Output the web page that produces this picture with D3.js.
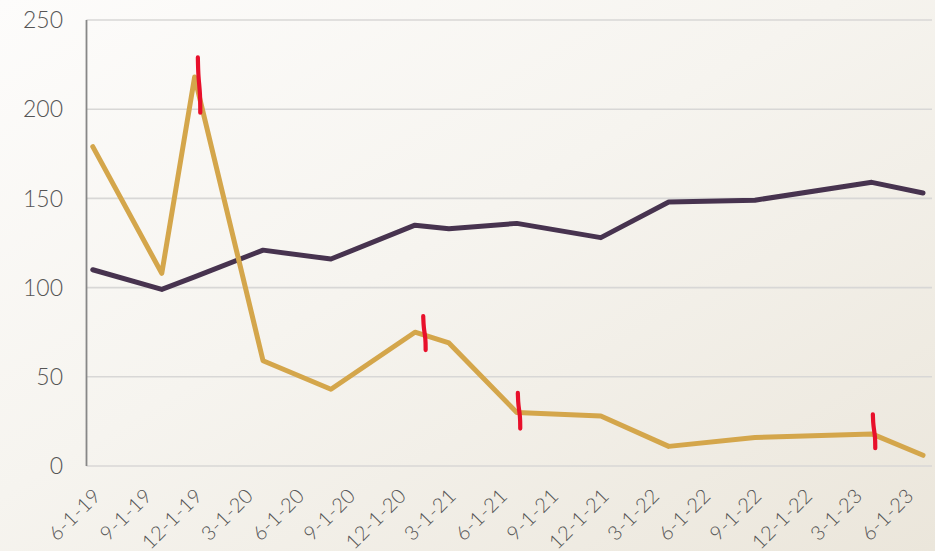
<!DOCTYPE html>
<html><head><meta charset="utf-8">
<script src="https://cdn.jsdelivr.net/npm/d3@7"></script>
<style>body{margin:0;background:#fff} svg{display:block}</style>
</head><body>
<svg id="c" width="935" height="551"></svg>
<script>
// ---- data ----
const dates = ["2019-05-28","2019-09-29","2019-11-27","2020-03-29","2020-07-29","2020-12-27","2021-02-26","2021-06-28","2021-11-26","2022-03-28","2022-08-30","2023-03-28","2023-06-28"];
const seriesPurple = [110, 99, 106, 121, 116, 135, 133, 136, 128, 148, 149, 159, 153];
const seriesGold   = [179, 108, 218, 59, 43, 75, 69, 30, 28, 11, 16, 18, 6];
const tickDates = ["2019-06-01","2019-09-01","2019-12-01","2020-03-01","2020-06-01","2020-09-01","2020-12-01","2021-03-01","2021-06-01","2021-09-01","2021-12-01","2022-03-01","2022-06-01","2022-09-01","2022-12-01","2023-03-01","2023-06-01"];
const tickLabels = ["6-1-19","9-1-19","12-1-19","3-1-20","6-1-20","9-1-20","12-1-20","3-1-21","6-1-21","9-1-21","12-1-21","3-1-22","6-1-22","9-1-22","12-1-22","3-1-23","6-1-23"];
const yTicks = [0, 50, 100, 150, 200, 250];
const markDates = ["2019-12-05","2021-01-13","2021-07-02","2023-04-01"];
const markTop = [229, 84, 41, 29];
const markBottom = [198, 65, 21, 10];

const parse = d3.utcParse("%Y-%m-%d");
const svg = d3.select("#c");
const W = 935, H = 551;

// background gradient
const defs = svg.append("defs");
const g = defs.append("linearGradient").attr("id","bg").attr("x1","0").attr("y1","0").attr("x2","1").attr("y2","1");
g.append("stop").attr("offset","0").attr("stop-color","#fdfcfb");
g.append("stop").attr("offset","0.45").attr("stop-color","#f6f4ef");
g.append("stop").attr("offset","1").attr("stop-color","#ebe6db");
svg.append("rect").attr("width",W).attr("height",H).attr("fill","url(#bg)");

const x = d3.scaleUtc().domain([parse("2019-06-01"), parse("2023-06-01")]).range([95, 908]);
const y = d3.scaleLinear().domain([0, 250]).range([466, 20]);
const plotLeft = 86.5, plotRight = 932;

// gridlines
svg.append("g").selectAll("line").data(yTicks).join("line")
  .attr("x1", plotLeft).attr("x2", plotRight)
  .attr("y1", d => y(d)).attr("y2", d => y(d))
  .attr("stroke", "#d8d7d6").attr("stroke-width", 1.6);

// y axis line
svg.append("line").attr("x1", plotLeft).attr("x2", plotLeft).attr("y1", y(250)).attr("y2", y(0))
  .attr("stroke", "#878787").attr("stroke-width", 1.8);

// y labels
svg.append("g").selectAll("text").data(yTicks).join("text")
  .attr("x", 63).attr("y", d => y(d)).attr("dy", "0.36em")
  .attr("text-anchor", "end")
  .attr("font-family", "Lato, 'Open Sans', sans-serif").attr("font-weight", 300)
  .attr("font-size", 23).attr("fill", "#555")
  .text(d => d);

// x labels
svg.append("g").selectAll("text").data(tickDates).join("text")
  .attr("transform", d => `translate(${x(parse(d)) + 7},${497}) rotate(-45)`)
  .attr("text-anchor", "end")
  .attr("font-family", "Lato, 'Open Sans', sans-serif").attr("font-weight", 300)
  .attr("font-size", 20).attr("letter-spacing", 0.4).attr("fill", "#555")
  .text((d, i) => tickLabels[i]);

// lines
const line = d3.line().x(d => x(d.date)).y(d => y(d.v));
const mk = arr => arr.map((v, i) => ({date: parse(dates[i]), v}));
svg.append("path").datum(mk(seriesPurple)).attr("d", line)
  .attr("fill","none").attr("stroke","#47334f").attr("stroke-width",5)
  .attr("stroke-linejoin","round").attr("stroke-linecap","round");
svg.append("path").datum(mk(seriesGold)).attr("d", line)
  .attr("fill","none").attr("stroke","#d4a64b").attr("stroke-width",5)
  .attr("stroke-linejoin","round").attr("stroke-linecap","round");

// red hand-drawn marks
const markLine = d3.line().curve(d3.curveBasis);
markDates.forEach((d, i) => {
  const cx = x(parse(d));
  const t = y(markTop[i]), b = y(markBottom[i]);
  const pts = [[cx - 1.2, t], [cx - 0.8, t + (b - t) * 0.35], [cx + 1.2, t + (b - t) * 0.65], [cx + 1.2, b]];
  svg.append("path").attr("d", markLine(pts))
    .attr("fill","none").attr("stroke","#e8102b").attr("stroke-width",4.2)
    .attr("stroke-linecap","round");
});
</script>
</body></html>
